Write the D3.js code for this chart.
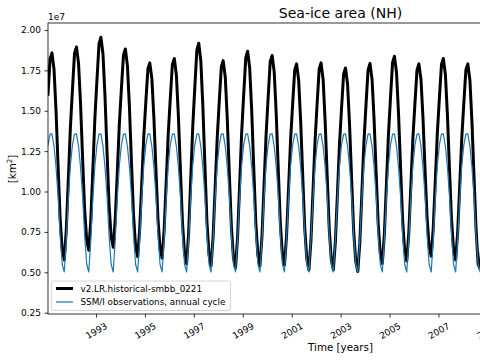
<!DOCTYPE html>
<html>
<head>
<meta charset="utf-8">
<script src="https://cdn.jsdelivr.net/npm/d3@7"></script>
<style>
  html, body { margin: 0; padding: 0; background: #fff; }
  svg { display: block; font-family: "DejaVu Sans", sans-serif; }
</style>
</head>
<body>
<svg id="chart" width="480" height="360"></svg>
<script>
// ---- Data (sea-ice area in units of 1e7 km^2) ----
const years = [1991,1992,1993,1994,1995,1996,1997,1998,1999,2000,2001,2002,2003,2004,2005,2006,2007,2008];
const months = [0,1,2,3,4,5,6,7,8,9,10,11];

// Model: v2.LR.historical-smbb_0221, monthly values (Jan..Dec) per year
const modelArea = [
  [1.602,1.820,1.858,1.756,1.499,1.153,0.833,0.641,0.577,0.762,1.078,1.394],
  [1.631,1.855,1.895,1.794,1.543,1.203,0.889,0.700,0.637,0.822,1.138,1.454],
  [1.691,1.915,1.955,1.851,1.591,1.240,0.915,0.720,0.655,0.827,1.121,1.416],
  [1.637,1.845,1.882,1.779,1.522,1.175,0.854,0.661,0.597,0.765,1.053,1.340],
  [1.556,1.760,1.796,1.699,1.458,1.132,0.830,0.648,0.588,0.761,1.057,1.354],
  [1.576,1.786,1.823,1.721,1.467,1.125,0.807,0.617,0.553,0.744,1.072,1.399],
  [1.645,1.877,1.918,1.808,1.532,1.160,0.816,0.609,0.540,0.718,1.023,1.327],
  [1.556,1.772,1.810,1.707,1.450,1.104,0.783,0.590,0.526,0.714,1.036,1.358],
  [1.600,1.828,1.868,1.762,1.496,1.138,0.806,0.606,0.540,0.722,1.035,1.347],
  [1.582,1.803,1.842,1.738,1.479,1.129,0.804,0.610,0.545,0.719,1.018,1.317],
  [1.541,1.753,1.790,1.688,1.433,1.089,0.770,0.579,0.515,0.694,1.002,1.309],
  [1.540,1.758,1.796,1.694,1.437,1.091,0.771,0.579,0.515,0.690,0.990,1.290],
  [1.515,1.728,1.765,1.664,1.412,1.072,0.757,0.568,0.505,0.685,0.994,1.303],
  [1.535,1.753,1.792,1.693,1.446,1.112,0.802,0.617,0.555,0.734,1.042,1.350],
  [1.581,1.799,1.837,1.736,1.482,1.140,0.823,0.633,0.570,0.741,1.034,1.326],
  [1.546,1.753,1.790,1.695,1.457,1.136,0.838,0.660,0.600,0.771,1.065,1.358],
  [1.578,1.786,1.823,1.723,1.474,1.138,0.826,0.639,0.577,0.747,1.038,1.329],
  [1.547,1.754,1.790,1.688,1.434,1.092,0.774,0.550,0.520,0.702,1.014,1.326]
];

// SSM/I observations, annual cycle (Jan..Dec)
const obsAnnualCycle = [1.289,1.355,1.357,1.280,1.150,0.970,0.730,0.550,0.502,0.700,0.960,1.160];

const yTicks = [0.25,0.50,0.75,1.00,1.25,1.50,1.75,2.00];
const xTickYears = [1993,1995,1997,1999,2001,2003,2005,2007,2009,2011,2013];
const seriesNames = ["v2.LR.historical-smbb_0221", "SSM/I observations, annual cycle"];

// ---- Build series ----
const modelSeries = [];
const obsSeries = [];
years.forEach((yr, i) => {
  months.forEach(m => {
    const date = new Date(yr, m, 15);
    modelSeries.push({date, value: modelArea[i][m]});
    obsSeries.push({date, value: obsAnnualCycle[m]});
  });
});

// ---- Layout ----
const svg = d3.select("#chart");
const plot = {left: 48, right: 633, top: 23, bottom: 314};

const x = d3.scaleTime()
  .domain([new Date(1991, 0, 15), new Date(2014, 11, 15)])
  .range([plot.left, plot.right]);
const y = d3.scaleLinear()
  .domain([0.242, 2.043])
  .range([plot.bottom, plot.top]);

svg.append("defs").append("clipPath").attr("id", "clip")
  .append("rect")
  .attr("x", plot.left).attr("y", plot.top)
  .attr("width", plot.right - plot.left).attr("height", plot.bottom - plot.top);

const line = d3.line().x(d => x(d.date)).y(d => y(d.value));

const g = svg.append("g").attr("clip-path", "url(#clip)");
g.append("path").datum(modelSeries)
  .attr("d", line).attr("fill", "none")
  .attr("stroke", "#000").attr("stroke-width", 3)
  .attr("stroke-linejoin", "round").attr("stroke-linecap", "square");
g.append("path").datum(obsSeries)
  .attr("d", line).attr("fill", "none")
  .attr("stroke", "#1f77b4").attr("stroke-width", 1.2)
  .attr("stroke-linejoin", "round").attr("stroke-linecap", "square");

// ---- Axes ----
const yAxis = d3.axisLeft(y).tickValues(yTicks).tickFormat(d3.format(".2f"))
  .tickSize(3.5).tickPadding(3.5);
const yg = svg.append("g").attr("transform", `translate(${plot.left},0)`).call(yAxis);
yg.select(".domain").remove();
yg.selectAll("text").attr("font-size", 9).attr("fill", "#000")
  .attr("font-family", "DejaVu Sans, sans-serif");
yg.selectAll("line").attr("stroke", "#000").attr("stroke-width", 0.8);

const xAxis = d3.axisBottom(x).tickValues(xTickYears.map(yv => new Date(yv, 0, 1)))
  .tickFormat(d3.timeFormat("%Y")).tickSize(3.5);
const xg = svg.append("g").attr("transform", `translate(0,${plot.bottom})`).call(xAxis);
xg.select(".domain").remove();
xg.selectAll("line").attr("stroke", "#000").attr("stroke-width", 0.8);
xg.selectAll("text")
  .attr("font-size", 9).attr("fill", "#000")
  .attr("font-family", "DejaVu Sans, sans-serif")
  .attr("text-anchor", "middle")
  .attr("dominant-baseline", "central")
  .attr("y", 0).attr("dy", null)
  .attr("transform", "translate(0,17) rotate(-30)");

// Spines
const spines = svg.append("g").attr("stroke", "#000").attr("stroke-width", 0.8).attr("fill", "none");
spines.append("rect")
  .attr("x", plot.left).attr("y", plot.top)
  .attr("width", plot.right - plot.left).attr("height", plot.bottom - plot.top);

// Offset text
svg.append("text").attr("x", plot.left).attr("y", 20)
  .attr("font-size", 9).text("1e7");

// Title
svg.append("text").attr("x", (plot.left + plot.right) / 2).attr("y", 18)
  .attr("text-anchor", "middle").attr("font-size", 14).text("Sea-ice area (NH)");

// X label
svg.append("text").attr("x", (plot.left + plot.right) / 2).attr("y", 351)
  .attr("text-anchor", "middle").attr("font-size", 10.3).text("Time [years]");

// Y label
const yl = svg.append("text")
  .attr("transform", `translate(16,169) rotate(-90)`)
  .attr("text-anchor", "middle").attr("font-size", 10.3);
yl.append("tspan").text("[km");
yl.append("tspan").attr("font-size", 7.2).attr("dy", -4).text("2");
yl.append("tspan").attr("dy", 4).text("]");

// Legend
const lg = svg.append("g");
lg.append("rect").attr("x", 51.5).attr("y", 281).attr("width", 179).attr("height", 29.5)
  .attr("rx", 2).attr("fill", "#fff").attr("fill-opacity", 0.8)
  .attr("stroke", "#cccccc").attr("stroke-width", 0.8);
const legendItems = [
  {name: seriesNames[0], color: "#000", width: 3, y: 288.5},
  {name: seriesNames[1], color: "#1f77b4", width: 1.2, y: 302}
];
legendItems.forEach(it => {
  lg.append("line").attr("x1", 56).attr("x2", 73).attr("y1", it.y).attr("y2", it.y)
    .attr("stroke", it.color).attr("stroke-width", it.width);
  lg.append("text").attr("x", 80.5).attr("y", it.y).attr("dominant-baseline", "central")
    .attr("font-size", 8.8).text(it.name);
});
</script>
</body>
</html>
